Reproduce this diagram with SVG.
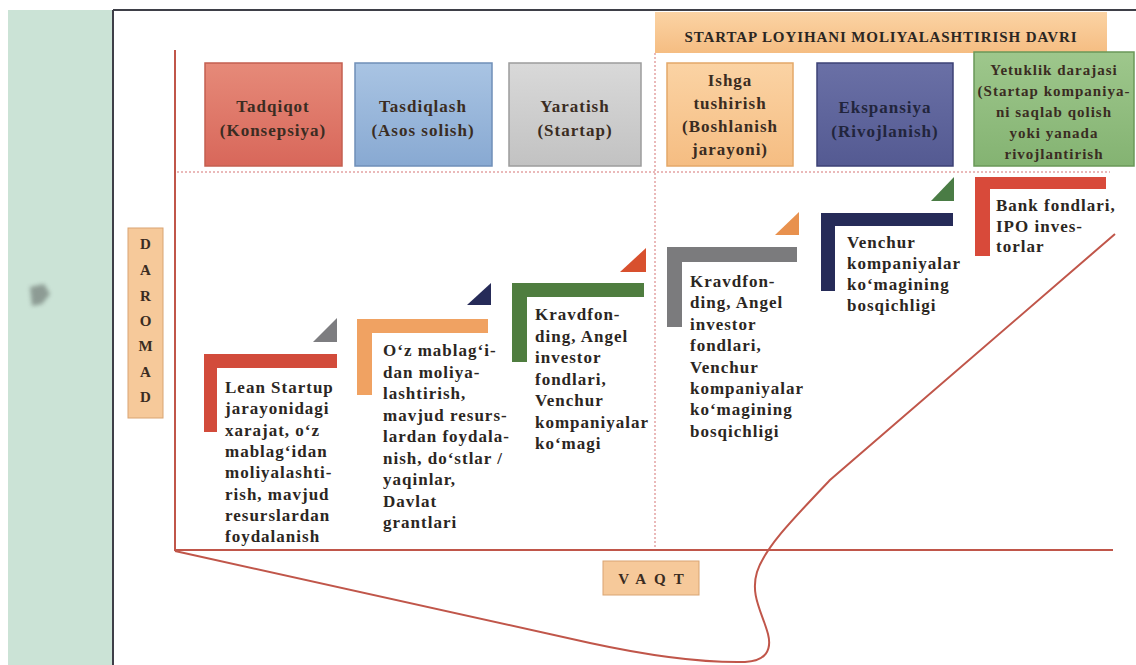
<svg xmlns="http://www.w3.org/2000/svg" width="1136" height="665" viewBox="0 0 1136 665" font-family="'Liberation Serif', 'DejaVu Serif', serif">
<defs>
<style>
text{font-family:'Liberation Serif','DejaVu Serif',serif;font-weight:bold;}
.t{fill:#2b2622;}
.b17{font-size:17px;letter-spacing:1px;}
.bx{font-size:17px;letter-spacing:1px;text-anchor:middle;fill:#3a2c22;}
.ax{stroke:#c0564a;stroke-width:2;fill:none;}
.dot{stroke:#e3a3a3;stroke-width:1.5;stroke-dasharray:2 2;fill:none;}
</style>
<linearGradient id="gRed" x1="0" y1="0" x2="0" y2="1"><stop offset="0" stop-color="#e68a79"/><stop offset="1" stop-color="#d8675a"/></linearGradient>
<linearGradient id="gBlue" x1="0" y1="0" x2="0" y2="1"><stop offset="0" stop-color="#a9c4e3"/><stop offset="1" stop-color="#88a9d2"/></linearGradient>
<linearGradient id="gGray" x1="0" y1="0" x2="0" y2="1"><stop offset="0" stop-color="#d9d9d9"/><stop offset="1" stop-color="#c2c2c2"/></linearGradient>
<linearGradient id="gOr" x1="0" y1="0" x2="0" y2="1"><stop offset="0" stop-color="#fbd3a4"/><stop offset="1" stop-color="#f5bd82"/></linearGradient>
<linearGradient id="gNavy" x1="0" y1="0" x2="0" y2="1"><stop offset="0" stop-color="#6a70a6"/><stop offset="1" stop-color="#545a92"/></linearGradient>
<linearGradient id="gGreen" x1="0" y1="0" x2="0" y2="1"><stop offset="0" stop-color="#9ec78c"/><stop offset="1" stop-color="#84b372"/></linearGradient>
<filter id="blur" x="-50%" y="-50%" width="200%" height="200%"><feGaussianBlur stdDeviation="2"/></filter>
</defs>

<rect x="0" y="0" width="1136" height="665" fill="#ffffff"/>
<!-- left panel -->
<rect x="8" y="10" width="105" height="655" fill="#cbe3d6"/>
<polygon points="30,287 44,284 50,294 42,304 32,306" fill="#7e8a84" opacity="0.8" filter="url(#blur)"/>
<line x1="113" y1="10" x2="113" y2="665" stroke="#3e3f48" stroke-width="2"/>
<line x1="113" y1="10" x2="1136" y2="10" stroke="#3e3f48" stroke-width="2"/>

<!-- grid / axes -->
<g id="axes">
<line class="dot" x1="177" y1="172" x2="1110" y2="172"/>
<line class="dot" x1="655" y1="53" x2="655" y2="549"/>
<line class="ax" x1="175" y1="50" x2="175" y2="551"/>
<line class="ax" x1="175" y1="550" x2="1113" y2="550"/>
</g>

<!-- header -->
<g id="header">
<rect x="655" y="12" width="452" height="41" fill="url(#gOr)"/>
<text class="t" x="881" y="42" font-size="15" letter-spacing="0.9" text-anchor="middle" fill="#3a2c22">STARTAP LOYIHANI MOLIYALASHTIRISH DAVRI</text>
</g>

<!-- stage boxes -->
<g id="stage1">
<rect x="205" y="63" width="137" height="103" fill="url(#gRed)" stroke="#c45f50" stroke-width="1.5"/>
<text class="t bx" x="273" y="112">Tadqiqot<tspan x="273" dy="24">(Konsepsiya)</tspan></text>
</g>
<g id="stage2">
<rect x="355" y="63" width="137" height="103" fill="url(#gBlue)" stroke="#6f8fb8" stroke-width="1.5"/>
<text class="t bx" x="423" y="112">Tasdiqlash<tspan x="423" dy="24">(Asos solish)</tspan></text>
</g>
<g id="stage3">
<rect x="509" y="63" width="132" height="103" fill="url(#gGray)" stroke="#9c9c9c" stroke-width="1.5"/>
<text class="t bx" x="575" y="112">Yaratish<tspan x="575" dy="24">(Startap)</tspan></text>
</g>
<g id="stage4">
<rect x="667" y="63" width="126" height="103" fill="url(#gOr)" stroke="#e4a868" stroke-width="1.5"/>
<text class="t bx" x="730" y="86">Ishga<tspan x="730" dy="23">tushirish</tspan><tspan x="730" dy="23">(Boshlanish</tspan><tspan x="730" dy="23">jarayoni)</tspan></text>
</g>
<g id="stage5">
<rect x="817" y="63" width="136" height="103" fill="url(#gNavy)" stroke="#3c4175" stroke-width="1.5"/>
<text class="t bx" x="885" y="113" style="fill:#22253c">Ekspansiya<tspan x="885" dy="24">(Rivojlanish)</tspan></text>
</g>
<g id="stage6">
<rect x="974" y="52" width="160" height="114" fill="url(#gGreen)" stroke="#6a9858" stroke-width="1.5"/>
<text class="t" x="1054" y="75" font-size="15" letter-spacing="1" text-anchor="middle" style="fill:#3a2c22">Yetuklik darajasi<tspan x="1054" dy="21">(Startap kompaniya-</tspan><tspan x="1054" dy="21">ni saqlab qolish</tspan><tspan x="1054" dy="21">yoki yanada</tspan><tspan x="1054" dy="21">rivojlantirish</tspan></text>
</g>

<!-- axis labels -->
<g id="ylabel">
<rect x="128" y="228" width="35" height="190" fill="#f6c99a" stroke="#d9a472" stroke-width="1"/>
<text class="t" font-size="15" text-anchor="middle" style="fill:#3a2c22">
<tspan x="145.5" y="249">D</tspan><tspan x="145.5" y="275">A</tspan><tspan x="145.5" y="301">R</tspan><tspan x="145.5" y="326">O</tspan><tspan x="145.5" y="351">M</tspan><tspan x="145.5" y="377">A</tspan><tspan x="145.5" y="402">D</tspan>
</text>
</g>
<g id="xlabel">
<rect x="603" y="561" width="96" height="34" fill="#f6c99a" stroke="#d9a472" stroke-width="1"/>
<text class="t" x="655" y="584" font-size="15" letter-spacing="8" text-anchor="middle" style="fill:#3a2c22">VAQT</text>
</g>

<!-- funding steps -->
<g id="step1">
<path d="M204,354 H337 V368 H217 V432 H204 Z" fill="#d24b3b"/>
<polygon points="313,342 337,342 337,318" fill="#7d7d80"/>
<text class="t b17" x="225" y="393">Lean Startup<tspan x="225" dy="21.3">jarayonidagi</tspan><tspan x="225" dy="21.3">xarajat, o‘z</tspan><tspan x="225" dy="21.3">mablag‘idan</tspan><tspan x="225" dy="21.3">moliyalashti-</tspan><tspan x="225" dy="21.3">rish, mavjud</tspan><tspan x="225" dy="21.3">resurslardan</tspan><tspan x="225" dy="21.3">foydalanish</tspan></text>
</g>
<g id="step2">
<path d="M357,319 H488 V333 H372 V395 H357 Z" fill="#f0a262"/>
<polygon points="467,305 491,305 491,283" fill="#262b58"/>
<text class="t b17" x="383" y="356">O‘z mablag‘i-<tspan x="383" dy="21.5">dan moliya-</tspan><tspan x="383" dy="21.5">lashtirish,</tspan><tspan x="383" dy="21.5">mavjud resurs-</tspan><tspan x="383" dy="21.5">lardan foydala-</tspan><tspan x="383" dy="21.5">nish,  do‘stlar /</tspan><tspan x="383" dy="21.5">yaqinlar,</tspan><tspan x="383" dy="21.5">Davlat</tspan><tspan x="383" dy="21.5">grantlari</tspan></text>
</g>
<g id="step3">
<path d="M512,283 H644 V297 H527 V362 H512 Z" fill="#4f7d3f"/>
<polygon points="620,272 646,272 646,248" fill="#d8502e"/>
<text class="t b17" x="535" y="320">Kravdfon-<tspan x="535" dy="21.5">ding, Angel</tspan><tspan x="535" dy="21.5">investor</tspan><tspan x="535" dy="21.5">fondlari,</tspan><tspan x="535" dy="21.5">Venchur</tspan><tspan x="535" dy="21.5">kompaniyalar</tspan><tspan x="535" dy="21.5">ko‘magi</tspan></text>
</g>
<g id="step4">
<path d="M667,247 H797 V262 H682 V327 H667 Z" fill="#7b7b7d"/>
<polygon points="775,235 799,235 799,212" fill="#e8914e"/>
<text class="t b17" x="690" y="287">Kravdfon-<tspan x="690" dy="21.4">ding, Angel</tspan><tspan x="690" dy="21.4">investor</tspan><tspan x="690" dy="21.4">fondlari,</tspan><tspan x="690" dy="21.4">Venchur</tspan><tspan x="690" dy="21.4">kompaniyalar</tspan><tspan x="690" dy="21.4">ko‘magining</tspan><tspan x="690" dy="21.4">bosqichligi</tspan></text>
</g>
<g id="step5">
<path d="M821,213 H953 V226 H835 V291 H821 Z" fill="#262b58"/>
<polygon points="931,201 954,201 954,177" fill="#4a7c45"/>
<text class="t b17" x="847" y="248">Venchur<tspan x="847" dy="21">kompaniyalar</tspan><tspan x="847" dy="21">ko‘magining</tspan><tspan x="847" dy="21">bosqichligi</tspan></text>
</g>
<g id="step6">
<path d="M975,177 H1106 V189 H990 V256 H975 Z" fill="#d84a3a"/>
<text class="t b17" x="996" y="211">Bank fondlari,<tspan x="996" dy="20.5">IPO inves-</tspan><tspan x="996" dy="20.5">torlar</tspan></text>
</g>

<!-- curve -->
<g id="connectors">
<path class="ax" d="M175,551 L590,643 C650,656 700,663 745,662 C766,661 772,650 768,634 C762,612 750,595 757,572 C765,548 790,522 830,480 L1115,234"/>
</g>
</svg>
